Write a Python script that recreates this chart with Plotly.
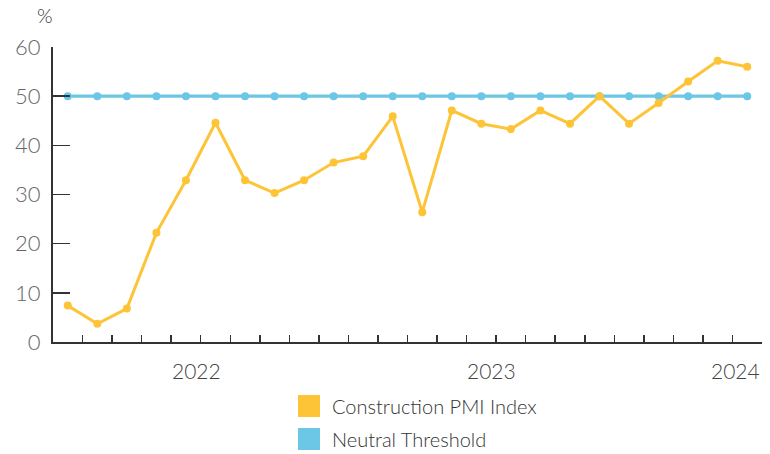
import plotly.graph_objects as go

# ---- data ----
pmi_values = [7.4, 3.7, 6.8, 22.2, 32.9, 44.6, 32.9, 30.3, 32.9, 36.5, 37.8, 45.9,
              26.4, 47.1, 44.4, 43.3, 47.1, 44.4, 50.0, 44.4, 48.6, 53.0, 57.2, 56.0]
neutral_values = [50] * 24
periods = list(range(len(pmi_values)))
year_labels = ["2022", "2023", "2024"]
year_positions = [4.35, 14.35, 22.6]
series_names = ["Construction PMI Index", "Neutral Threshold"]
y_ticks = [0, 10, 20, 30, 40, 50, 60]

YELLOW = "#FDC437"
BLUE = "#6CC7E6"
FONT = "Lato"

W, H = 770, 454
# plot-area geometry in page pixels: left 53, top 47, right 762, bottom 342
L, T = 53, 47
R, B = W - 762, H - 342
PW, PH = W - L - R, H - T - B


def px_x(p):
    return (p - L) / PW


def px_y(p):
    return (T + PH - p) / PH


fig = go.Figure()
fig.add_trace(go.Scatter(
    x=periods, y=neutral_values, mode="lines+markers", name=series_names[1],
    line=dict(color=BLUE, width=3.2), marker=dict(color=BLUE, size=8),
    showlegend=False, cliponaxis=False))
fig.add_trace(go.Scatter(
    x=periods, y=pmi_values, mode="lines+markers", name=series_names[0],
    line=dict(color=YELLOW, width=3), marker=dict(color=YELLOW, size=8),
    showlegend=False, cliponaxis=False))

ax_color = "#333333"
fig.update_xaxes(
    range=[-0.5, len(periods) - 0.5], showgrid=False, zeroline=False,
    showline=True, linecolor=ax_color, linewidth=2, automargin=False,
    tickmode="array", tickvals=[i - 0.5 for i in range(len(periods) + 1)],
    ticks="inside", ticklen=7, tickcolor=ax_color, tickwidth=1.5,
    showticklabels=False)
fig.update_yaxes(
    range=[0, 60], showgrid=False, zeroline=False, automargin=False,
    showline=True, linecolor=ax_color, linewidth=2,
    tickmode="array", tickvals=y_ticks,
    ticks="inside", ticklen=17, tickcolor=ax_color, tickwidth=1.5,
    tickfont=dict(family=FONT, size=22, color="#666666", weight=300),
    ticklabelstandoff=6)

annotations = []
for lab, pos in zip(year_labels, year_positions):
    annotations.append(dict(
        x=pos, y=px_y(370), xref="x", yref="paper", text=lab, showarrow=False,
        xanchor="center", yanchor="middle",
        font=dict(family=FONT, size=21, color="#444444", weight=300)))
annotations.append(dict(
    x=px_x(45), y=px_y(15), xref="paper", yref="paper", text="%", showarrow=False,
    xanchor="center", yanchor="middle",
    font=dict(family=FONT, size=20, color="#333333", weight=300)))

shapes = []
legend_rows = [(series_names[0], YELLOW, 395, 417), (series_names[1], BLUE, 428, 450)]
for name, col, y0, y1 in legend_rows:
    shapes.append(dict(type="rect", xref="paper", yref="paper",
                       x0=px_x(298), x1=px_x(320), y0=px_y(y1), y1=px_y(y0),
                       fillcolor=col, line=dict(width=0)))
    annotations.append(dict(
        x=px_x(330), y=px_y((y0 + y1) / 2), xref="paper", yref="paper", text=name,
        showarrow=False, xanchor="left", yanchor="middle",
        font=dict(family=FONT, size=20, color="#333333", weight=300)))

fig.update_layout(
    width=W, height=H, margin=dict(l=L, r=R, t=T, b=B, autoexpand=False),
    paper_bgcolor="white", plot_bgcolor="white", hovermode=False,
    annotations=annotations, shapes=shapes, showlegend=False)

fig.write_html("out.html",
               config={"displayModeBar": False, "staticPlot": True},
               post_script="document.body.style.margin='0';"
                           "document.body.style.overflow='hidden';")
